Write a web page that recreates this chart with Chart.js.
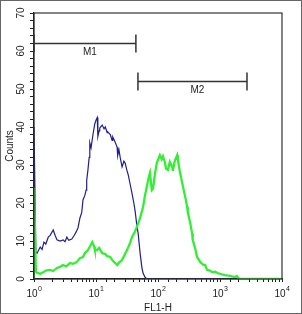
<!DOCTYPE html>
<html>
<head>
<meta charset="utf-8">
<script src="https://cdn.jsdelivr.net/npm/chart.js@4/dist/chart.umd.min.js"></script>
<style>
  html, body { margin: 0; padding: 0; background: #fff; }
  #wrap { width: 302px; height: 314px; position: relative; }
</style>
</head>
<body>
<div id="wrap"><canvas id="hist"></canvas></div>
<script>
// FL1-H position in decades (log10), counts
const blueDecade = [0, 0, 0.03, 0.05, 0.10, 0.13, 0.16, 0.19, 0.23, 0.26, 0.31, 0.34, 0.37, 0.42, 0.47, 0.50, 0.53, 0.56, 0.61, 0.65, 0.68, 0.71, 0.74, 0.77, 0.79, 0.82, 0.84, 0.85, 0.87, 0.89, 0.90, 0.92, 0.95, 0.98, 1.00, 1.02, 1.03, 1.05, 1.06, 1.10, 1.13, 1.15, 1.18, 1.19, 1.23, 1.26, 1.27, 1.31, 1.34, 1.35, 1.37, 1.39, 1.42, 1.45, 1.47, 1.50, 1.52, 1.55, 1.58, 1.61, 1.63, 1.66, 1.68, 1.71, 1.74, 1.76, 1.79, 1.82, 4.0];
const blueCounts = [0, 40, 7, 6.8, 8.4, 7.8, 9.7, 9.2, 11, 11.5, 12.9, 11.5, 10.3, 10.0, 10.3, 9.8, 11, 10.2, 10.5, 11.5, 12.4, 13.5, 16, 17.5, 20.8, 22, 23.4, 26, 28.7, 32, 35.8, 34.5, 37.9, 40.8, 41.8, 42.5, 37.5, 39, 39.7, 40.5, 39.5, 40, 38.5, 38.7, 38, 36.5, 37.4, 36, 34.7, 32.5, 34, 32, 29.5, 31, 30.5, 28.5, 27.4, 25, 22.6, 20, 18, 14, 12, 7, 3, 1.5, 0.5, 0, 0];

const greenDecade = [0, 0, 0.03, 0.05, 0.10, 0.15, 0.19, 0.26, 0.31, 0.37, 0.42, 0.47, 0.52, 0.58, 0.63, 0.69, 0.74, 0.79, 0.82, 0.87, 0.90, 0.94, 0.97, 0.98, 1.02, 1.05, 1.10, 1.15, 1.18, 1.23, 1.27, 1.31, 1.34, 1.37, 1.42, 1.45, 1.50, 1.55, 1.58, 1.63, 1.66, 1.71, 1.76, 1.79, 1.84, 1.87, 1.90, 1.92, 1.95, 1.98, 2.03, 2.06, 2.08, 2.11, 2.13, 2.16, 2.19, 2.23, 2.24, 2.27, 2.31, 2.32, 2.35, 2.39, 2.42, 2.44, 2.47, 2.48, 2.52, 2.55, 2.56, 2.60, 2.63, 2.68, 2.73, 2.76, 2.79, 2.84, 2.87, 2.92, 2.97, 3.03, 3.08, 3.16, 3.24, 3.27, 3.31, 4.0];
const greenCounts = [0, 24, 2, 1.6, 1.4, 1.8, 2.2, 2.4, 2.1, 2.9, 3.2, 3.7, 3.3, 4.2, 4.0, 4.5, 5.5, 5.8, 6.8, 7.6, 8.5, 9.7, 8.6, 7.8, 7.6, 8.2, 6.8, 6.6, 6.0, 5.8, 4.8, 4.2, 3.7, 4.3, 5, 6, 7.6, 9.5, 11, 12.5, 13.7, 16, 19, 22, 26, 27.9, 23.4, 23.8, 27.5, 30.5, 32.6, 31.5, 32.3, 30.8, 29, 28.7, 30.8, 29.5, 28.5, 31, 32.6, 31.5, 28.5, 25.3, 23, 21.6, 19, 17.6, 14.7, 12, 10.3, 8, 5.8, 4.5, 3.7, 3.7, 2.4, 2.2, 1.8, 1.9, 1.5, 1.2, 1.0, 0.8, 0.5, 0.8, 0, 0];

const yLabels = [0, 10, 20, 30, 40, 50, 60, 70];
const xExponents = [0, 1, 2, 3, 4];

// marker gates: name, start, end (FL1-H), height (counts)
const markers = [
  {name: "M1", from: 1, to: 44, level: 62},
  {name: "M2", from: 47.5, to: 2725, level: 52}
];

const FONT = "'Liberation Sans', Arial, sans-serif";

function toPoints(dec, counts) {
  return dec.map((d, i) => ({x: Math.pow(10, d), y: counts[i]}));
}

const decorPlugin = {
  id: "decor",
  afterDraw(chart) {
    const ctx = chart.ctx;
    const a = chart.chartArea;
    const xs = chart.scales.x, ys = chart.scales.y;
    ctx.save();
    // plot frame
    ctx.strokeStyle = "#333";
    ctx.lineWidth = 1.2;
    ctx.strokeRect(a.left, a.top, a.right - a.left, a.bottom - a.top);

    ctx.fillStyle = "#222";
    // y labels, rotated
    ctx.font = "10px " + FONT;
    ctx.textAlign = "center";
    ctx.textBaseline = "middle";
    yLabels.forEach(v => {
      const y = ys.getPixelForValue(v);
      ctx.save();
      ctx.translate(21, y);
      ctx.rotate(-Math.PI / 2);
      ctx.fillText(String(v), 0, 0);
      ctx.restore();
    });
    // x labels 10^n
    xExponents.forEach(n => {
      const x = xs.getPixelForValue(Math.pow(10, n));
      ctx.font = "10px " + FONT;
      const w1 = ctx.measureText("10").width;
      ctx.font = "7px " + FONT;
      const w2 = ctx.measureText(String(n)).width;
      const x0 = x - (w1 + w2) / 2;
      ctx.textAlign = "left";
      ctx.textBaseline = "alphabetic";
      ctx.font = "10px " + FONT;
      ctx.fillText("10", x0, 297);
      ctx.font = "7px " + FONT;
      ctx.fillText(String(n), x0 + w1 + 0.5, 291);
    });
    // gates
    ctx.strokeStyle = "#333";
    ctx.lineWidth = 1.5;
    ctx.font = "10px " + FONT;
    ctx.textAlign = "center";
    ctx.textBaseline = "middle";
    markers.forEach(m => {
      const x1 = xs.getPixelForValue(m.from);
      const x2 = xs.getPixelForValue(m.to);
      const y = ys.getPixelForValue(m.level);
      ctx.beginPath();
      ctx.moveTo(x1, y); ctx.lineTo(x2, y);
      ctx.moveTo(x1, y - 9); ctx.lineTo(x1, y + 9);
      ctx.moveTo(x2, y - 9); ctx.lineTo(x2, y + 9);
      ctx.stroke();
      ctx.fillText(m.name, (x1 + x2) / 2 + 5, y + 9);
    });
    // outer border
    ctx.strokeStyle = "#666";
    ctx.lineWidth = 1;
    ctx.strokeRect(0.5, 0.5, chart.width - 1, chart.height - 1);
    ctx.restore();
  }
};

new Chart(document.getElementById("hist"), {
  type: "line",
  data: {
    datasets: [
      {data: toPoints(greenDecade, greenCounts), borderColor: "#33ee33", borderWidth: 2.3, pointRadius: 0, tension: 0},
      {data: toPoints(blueDecade, blueCounts), borderColor: "#1f1f8f", borderWidth: 1.2, pointRadius: 0, tension: 0}
    ]
  },
  options: {
    responsive: true,
    maintainAspectRatio: false,
    animation: false,
    events: [],
    layout: {padding: {left: 0, top: 13, right: 20, bottom: 0}},
    plugins: {legend: {display: false}, tooltip: {enabled: false}},
    scales: {
      x: {
        type: "logarithmic",
        min: 1, max: 10000,
        afterFit: s => { s.height = 35; },
        grid: {drawOnChartArea: false, drawTicks: true, tickLength: 3, color: "#222"},
        border: {display: true, color: "#111", width: 1.2},
        ticks: {autoSkip: false, maxRotation: 0, callback: () => ""},
        title: {display: true, text: "FL1-H", color: "#222", font: {family: FONT, size: 10}, padding: {top: 5, bottom: 0}}
      },
      y: {
        min: 0, max: 70,
        afterFit: s => { s.width = 34; },
        grid: {drawOnChartArea: false, drawTicks: true, tickLength: 4, color: "#222"},
        border: {display: true, color: "#111", width: 1.2},
        ticks: {stepSize: 2, autoSkip: false, callback: () => ""},
        title: {display: true, text: "Counts", color: "#222", font: {family: FONT, size: 10}, padding: {top: 4, bottom: 0}}
      }
    }
  },
  plugins: [decorPlugin]
});
</script>
</body>
</html>
